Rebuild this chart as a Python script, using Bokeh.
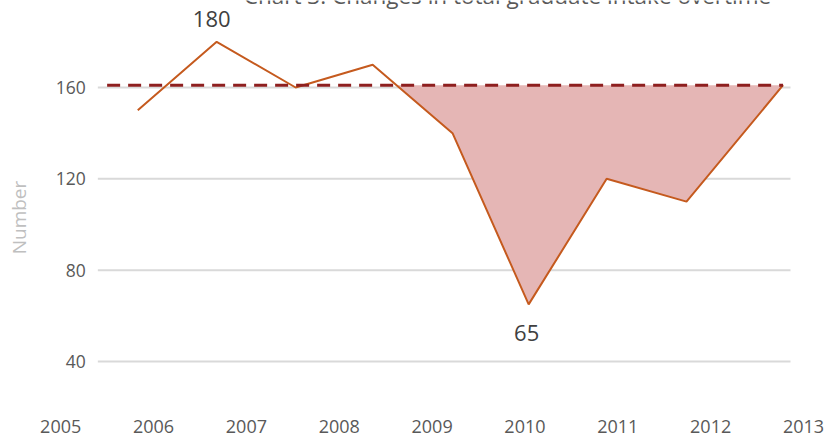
import numpy as np
from bokeh.plotting import figure
from bokeh.models import Range1d, FixedTicker, Label, LabelSet, ColumnDataSource
from bokeh.core.properties import value
from bokeh.embed import file_html
from bokeh.resources import INLINE

# ---------------- data ----------------
point_x = [2005.83, 2006.68, 2007.53, 2008.36, 2009.22, 2010.04, 2010.88, 2011.74, 2012.78]
intake = [150, 180, 160, 170, 140, 65, 120, 110, 161]
reference_level = 161
reference_start = 2005.50
year_ticks = [2005, 2006, 2007, 2008, 2009, 2010, 2011, 2012, 2013]
y_ticks = [40, 80, 120, 160]
y_tick_labels = ["40", "80", "120", "160"]
annotated_index = [1, 5]
title_text = "Chart 3: Changes in total graduate intake overtime"
y_title = "Number"

# ---------------- layout ----------------
W, H = 829, 439
px_per_year = 92.85
x_start = 2005 - 60.2 / px_per_year
x_end = x_start + W / px_per_year
bottom_border = 30
frame_h = H - bottom_border
px_per_unit = 2.283
y_end = 160 + 87 / px_per_unit
y_start = y_end - frame_h / px_per_unit
grid_x0, grid_x1 = 2005.40, 2012.86
ytick_label_x = 2005.27

FONT = "Open Sans"
GRAY = "#595959"

p = figure(width=W, height=H, output_backend="svg", toolbar_location=None,
           x_range=Range1d(x_start, x_end), y_range=Range1d(y_start, y_end),
           y_axis_location=None, min_border=0, min_border_left=0, min_border_right=0,
           min_border_top=0, min_border_bottom=bottom_border)
p.outline_line_color = None
p.xgrid.visible = False
p.ygrid.visible = False
p.background_fill_color = "white"
p.border_fill_color = "white"

ax = p.xaxis[0]
ax.ticker = FixedTicker(ticks=year_ticks)
ax.axis_line_color = None
ax.major_tick_line_color = None
ax.minor_tick_line_color = None
ax.major_tick_out = 0
ax.major_tick_in = 0
ax.major_label_text_font = FONT
ax.major_label_text_font_size = "18px"
ax.major_label_text_color = GRAY
ax.major_label_standoff = 10

# horizontal gridlines
p.segment(x0=[grid_x0] * len(y_ticks), x1=[grid_x1] * len(y_ticks), y0=y_ticks, y1=y_ticks,
          line_color="#d9d9d9", line_width=2)

# shaded area below the reference level (last crossing to end)
arr = np.array(intake, dtype=float)
xs = np.array(point_x)
cross = max(i for i in range(len(arr) - 1) if arr[i] >= reference_level and arr[i + 1] < reference_level)
t = (arr[cross] - reference_level) / (arr[cross] - arr[cross + 1])
x_cross = xs[cross] + t * (xs[cross + 1] - xs[cross])
area_x = np.concatenate([[x_cross], xs[cross + 1:]])
area_y = np.concatenate([[reference_level], np.minimum(arr[cross + 1:], reference_level)])
p.varea(x=area_x, y1=area_y, y2=[reference_level] * len(area_x), fill_color="#e5b6b5")

# data line
p.line(point_x, intake, line_color="#c55a1e", line_width=2)

# reference dashed line
p.line([reference_start, point_x[-1]], [reference_level, reference_level],
       line_color="#8e1f1f", line_width=3, line_dash="13 8")

# y tick labels
ysrc = ColumnDataSource(dict(x=[ytick_label_x] * len(y_ticks), y=y_ticks, t=y_tick_labels))
p.add_layout(LabelSet(x="x", y="y", text="t", source=ysrc, text_align="right",
                      text_baseline="middle", text_font=value(FONT), text_font_size="17.5px",
                      text_color=GRAY))

# y axis title
p.add_layout(Label(x=x_start + 18 / px_per_year, y=160 - (217 - 87) / px_per_unit, text=y_title,
                   angle=np.pi / 2, text_align="center", text_baseline="middle",
                   text_font=FONT, text_font_size="19px", text_color="#bfbfbf"))

# data labels
p.add_layout(Label(x=point_x[annotated_index[0]], y=intake[annotated_index[0]], text=str(intake[annotated_index[0]]),
                   x_offset=-5, y_offset=23, text_align="center", text_baseline="middle",
                   text_font=FONT, text_font_size="22px", text_color="#404040"))
p.add_layout(Label(x=point_x[annotated_index[1]], y=intake[annotated_index[1]], text=str(intake[annotated_index[1]]),
                   x_offset=-2, y_offset=-29, text_align="center", text_baseline="middle",
                   text_font=FONT, text_font_size="22px", text_color="#404040"))

# title (partially cut at top as in the reference)
p.add_layout(Label(x=x_start + 507 / px_per_year, y=160 + (87 + 5) / px_per_unit, text=title_text,
                   text_align="center", text_baseline="alphabetic",
                   text_font=FONT, text_font_size="22.5px", text_color=GRAY))

open("out.html", "w").write(file_html(p, INLINE))
